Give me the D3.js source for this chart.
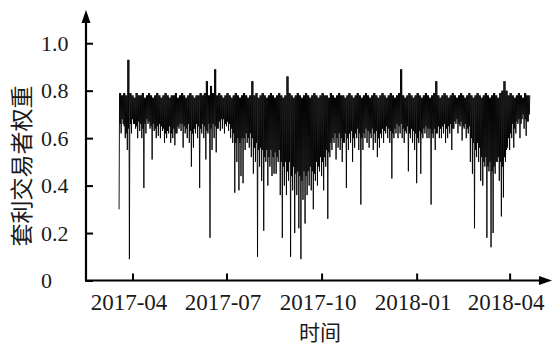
<!DOCTYPE html>
<html>
<head>
<meta charset="utf-8">
<script src="https://cdn.jsdelivr.net/npm/d3@7"></script>
<style>
  html, body { margin: 0; padding: 0; background: #fff; }
  svg { display: block; }
</style>
</head>
<body>
<div id="chart"></div>
<script>
// Series: sampled every 2 days from the first date.
// lowVals = deepest reading in the sample, bandVals = bottom of the dense band, highVals = top
const seriesStart = '2017-03-19';
const lowVals = [
  0.30,0.62,0.66,0.60,0.55,0.09,0.62,0.66,0.64,0.60,
  0.63,0.60,0.39,0.62,0.66,0.64,0.51,0.63,0.60,0.61,
  0.60,0.63,0.58,0.60,0.62,0.58,0.60,0.57,0.62,0.64,
  0.63,0.56,0.62,0.60,0.58,0.48,0.56,0.62,0.60,0.39,
  0.62,0.60,0.51,0.62,0.18,0.55,0.60,0.54,0.64,0.63,
  0.64,0.62,0.65,0.63,0.60,0.58,0.37,0.50,0.38,0.44,
  0.41,0.55,0.58,0.56,0.52,0.45,0.50,0.10,0.48,0.42,
  0.21,0.50,0.40,0.48,0.44,0.45,0.45,0.50,0.36,0.18,
  0.40,0.36,0.42,0.10,0.38,0.20,0.36,0.22,0.09,0.34,
  0.24,0.36,0.40,0.38,0.30,0.42,0.40,0.46,0.44,0.38,
  0.48,0.26,0.52,0.55,0.58,0.51,0.56,0.55,0.50,0.58,
  0.39,0.55,0.58,0.50,0.56,0.60,0.55,0.32,0.55,0.60,
  0.58,0.56,0.60,0.55,0.58,0.52,0.56,0.60,0.58,0.62,
  0.60,0.58,0.43,0.60,0.62,0.60,0.62,0.60,0.58,0.62,
  0.46,0.60,0.58,0.55,0.41,0.58,0.45,0.60,0.62,0.60,
  0.60,0.32,0.60,0.55,0.62,0.60,0.60,0.62,0.58,0.60,
  0.62,0.55,0.64,0.66,0.62,0.65,0.59,0.64,0.60,0.62,
  0.50,0.45,0.22,0.52,0.50,0.42,0.40,0.48,0.18,0.46,
  0.14,0.20,0.45,0.50,0.42,0.27,0.35,0.50,0.56,0.55,
  0.60,0.56,0.62,0.66,0.60,0.68,0.64,0.61,0.67
];
const bandVals = [
  0.66,0.68,0.65,0.62,0.64,0.66,0.68,0.66,0.65,0.67,
  0.66,0.64,0.66,0.68,0.67,0.65,0.66,0.64,0.65,0.66,
  0.65,0.64,0.62,0.63,0.65,0.62,0.64,0.62,0.65,0.66,
  0.66,0.65,0.64,0.66,0.63,0.62,0.64,0.66,0.65,0.64,
  0.66,0.65,0.63,0.66,0.64,0.66,0.65,0.64,0.67,0.68,
  0.68,0.66,0.67,0.66,0.64,0.62,0.58,0.60,0.58,0.60,
  0.60,0.62,0.60,0.62,0.60,0.56,0.58,0.55,0.56,0.55,
  0.52,0.55,0.52,0.55,0.52,0.54,0.52,0.55,0.50,0.48,
  0.50,0.46,0.50,0.44,0.48,0.45,0.46,0.44,0.42,0.46,
  0.44,0.46,0.48,0.46,0.45,0.50,0.48,0.52,0.50,0.52,
  0.55,0.54,0.58,0.60,0.62,0.60,0.62,0.60,0.58,0.62,
  0.60,0.62,0.63,0.60,0.62,0.64,0.62,0.60,0.62,0.64,
  0.63,0.62,0.64,0.62,0.63,0.60,0.62,0.64,0.63,0.65,
  0.64,0.63,0.62,0.64,0.66,0.65,0.66,0.64,0.63,0.65,
  0.62,0.64,0.63,0.62,0.60,0.63,0.62,0.64,0.65,0.64,
  0.64,0.62,0.64,0.62,0.65,0.64,0.65,0.66,0.64,0.65,
  0.66,0.64,0.67,0.68,0.66,0.67,0.65,0.66,0.64,0.65,
  0.60,0.58,0.55,0.58,0.56,0.52,0.50,0.52,0.48,0.50,
  0.46,0.48,0.50,0.52,0.50,0.48,0.52,0.55,0.60,0.62,
  0.66,0.64,0.67,0.68,0.66,0.70,0.68,0.67,0.70
];
const highVals = [
  0.79,0.78,0.79,0.78,0.93,0.79,0.78,0.77,0.79,0.78,
  0.78,0.79,0.77,0.78,0.79,0.78,0.77,0.78,0.79,0.78,
  0.77,0.78,0.79,0.78,0.77,0.78,0.78,0.79,0.77,0.78,
  0.79,0.78,0.77,0.78,0.79,0.78,0.77,0.78,0.78,0.79,
  0.78,0.79,0.84,0.78,0.82,0.79,0.89,0.78,0.79,0.78,
  0.77,0.78,0.79,0.78,0.77,0.78,0.79,0.78,0.77,0.78,
  0.79,0.78,0.77,0.78,0.84,0.78,0.79,0.77,0.78,0.79,
  0.78,0.77,0.78,0.79,0.78,0.77,0.78,0.79,0.78,0.77,
  0.78,0.86,0.79,0.78,0.77,0.78,0.79,0.78,0.77,0.78,
  0.79,0.78,0.77,0.78,0.79,0.78,0.77,0.78,0.79,0.78,
  0.78,0.77,0.79,0.78,0.77,0.78,0.79,0.78,0.78,0.77,
  0.78,0.79,0.78,0.77,0.78,0.79,0.78,0.77,0.78,0.79,
  0.78,0.77,0.78,0.79,0.78,0.77,0.78,0.79,0.78,0.77,
  0.78,0.79,0.78,0.77,0.78,0.79,0.89,0.78,0.77,0.78,
  0.79,0.78,0.77,0.78,0.79,0.78,0.77,0.78,0.79,0.78,
  0.77,0.78,0.79,0.84,0.78,0.77,0.78,0.79,0.78,0.77,
  0.78,0.79,0.78,0.77,0.78,0.79,0.78,0.77,0.78,0.79,
  0.78,0.77,0.78,0.79,0.78,0.77,0.78,0.79,0.78,0.77,
  0.78,0.79,0.78,0.77,0.79,0.80,0.84,0.80,0.78,0.79,
  0.78,0.77,0.78,0.79,0.78,0.77,0.79,0.78,0.78
];

// Axis ticks
const xTickDates = ['2017-04-01', '2017-07-01', '2017-10-01', '2018-01-01', '2018-04-01'];
const xTickLabels = ['2017-04', '2017-07', '2017-10', '2018-01', '2018-04'];
const yTickValues = [0, 0.2, 0.4, 0.6, 0.8, 1.0];
const yTickLabels = ['0', '0.2', '0.4', '0.6', '0.8', '1.0'];

const xTitle = '时间';
const yTitle = '套利交易者权重';

const width = 552, height = 345;
const parse = d3.timeParse('%Y-%m-%d');

// build the point list: low, high, band bottom, high within each 2-day sample
const start = parse(seriesStart);
const points = [];
lowVals.forEach((lo, i) => {
  const t = d3.timeDay.offset(start, 2 * i);
  points.push({ date: t, value: lo });
  points.push({ date: d3.timeHour.offset(t, 12), value: highVals[i] });
  points.push({ date: d3.timeHour.offset(t, 24), value: bandVals[i] });
  points.push({ date: d3.timeHour.offset(t, 36), value: highVals[i] });
});

const svg = d3.select('#chart').append('svg')
  .attr('width', width)
  .attr('height', height);

const x = d3.scaleTime()
  .domain([parse('2017-02-15'), parse('2018-05-12')])
  .range([86, 552]);

const y = d3.scaleLinear()
  .domain([0, 1.14])
  .range([280.5, 10]);

// the series line
const line = d3.line()
  .x(d => x(d.date))
  .y(d => y(d.value));

svg.append('path')
  .datum(points)
  .attr('fill', 'none')
  .attr('stroke', '#000')
  .attr('stroke-width', 0.9)
  .attr('stroke-linejoin', 'round')
  .attr('d', line);

const serif = '"Liberation Serif", "Times New Roman", serif';

// Y axis (ticks point inward)
const yAxis = d3.axisLeft(y)
  .tickValues(yTickValues)
  .tickFormat((d, i) => yTickLabels[i])
  .tickSizeInner(-7)
  .tickSizeOuter(0);

const yGroup = svg.append('g')
  .attr('transform', `translate(${x.range()[0]},0)`)
  .call(yAxis);
yGroup.select('.domain').remove();
yGroup.selectAll('.tick line').attr('stroke', '#000').attr('stroke-width', 2);
yGroup.selectAll('.tick text')
  .attr('x', -45)
  .attr('text-anchor', 'start')
  .attr('dy', '0.33em')
  .attr('fill', '#1a1a1a')
  .style('font-family', serif)
  .style('font-size', '22px');

// X axis (ticks point up)
const xAxis = d3.axisBottom(x)
  .tickValues(xTickDates.map(parse))
  .tickFormat((d, i) => xTickLabels[i])
  .tickSizeInner(-7)
  .tickSizeOuter(0);

const xGroup = svg.append('g')
  .attr('transform', `translate(0,${y(0)})`)
  .call(xAxis);
xGroup.select('.domain').remove();
xGroup.selectAll('.tick line').attr('stroke', '#000').attr('stroke-width', 2);
xGroup.selectAll('.tick text')
  .attr('y', 29)
  .attr('dy', 0)
  .attr('dx', -4)
  .attr('fill', '#1a1a1a')
  .style('font-family', serif)
  .style('font-size', '23px');

// axis lines with arrow heads
const x0 = x.range()[0], y0 = y(0);
svg.append('line')
  .attr('x1', x0).attr('y1', y0 + 1)
  .attr('x2', x0).attr('y2', y(1.14) + 10)
  .attr('stroke', '#000').attr('stroke-width', 2.2);
svg.append('line')
  .attr('x1', x0 - 1).attr('y1', y0)
  .attr('x2', x.range()[1] - 10).attr('y2', y0)
  .attr('stroke', '#000').attr('stroke-width', 2.2);

svg.append('path')
  .attr('d', `M${x0},${y(1.14)} L${x0 - 4.5},${y(1.14) + 13} L${x0 + 4.5},${y(1.14) + 13} Z`)
  .attr('fill', '#000');
svg.append('path')
  .attr('d', `M${x.range()[1]},${y0} L${x.range()[1] - 13},${y0 - 4.5} L${x.range()[1] - 13},${y0 + 4.5} Z`)
  .attr('fill', '#000');

// titles
const cjk = '"Noto Sans CJK SC", sans-serif';
svg.append('text')
  .attr('transform', `translate(20,166) rotate(-90)`)
  .attr('text-anchor', 'middle')
  .attr('dominant-baseline', 'central')
  .attr('fill', '#1a1a1a')
  .style('font-family', cjk)
  .style('font-size', '23px')
  .text(yTitle);

svg.append('text')
  .attr('x', 320)
  .attr('y', 331)
  .attr('text-anchor', 'middle')
  .attr('dominant-baseline', 'central')
  .attr('fill', '#1a1a1a')
  .style('font-family', cjk)
  .style('font-size', '21px')
  .text(xTitle);
</script>
</body>
</html>
